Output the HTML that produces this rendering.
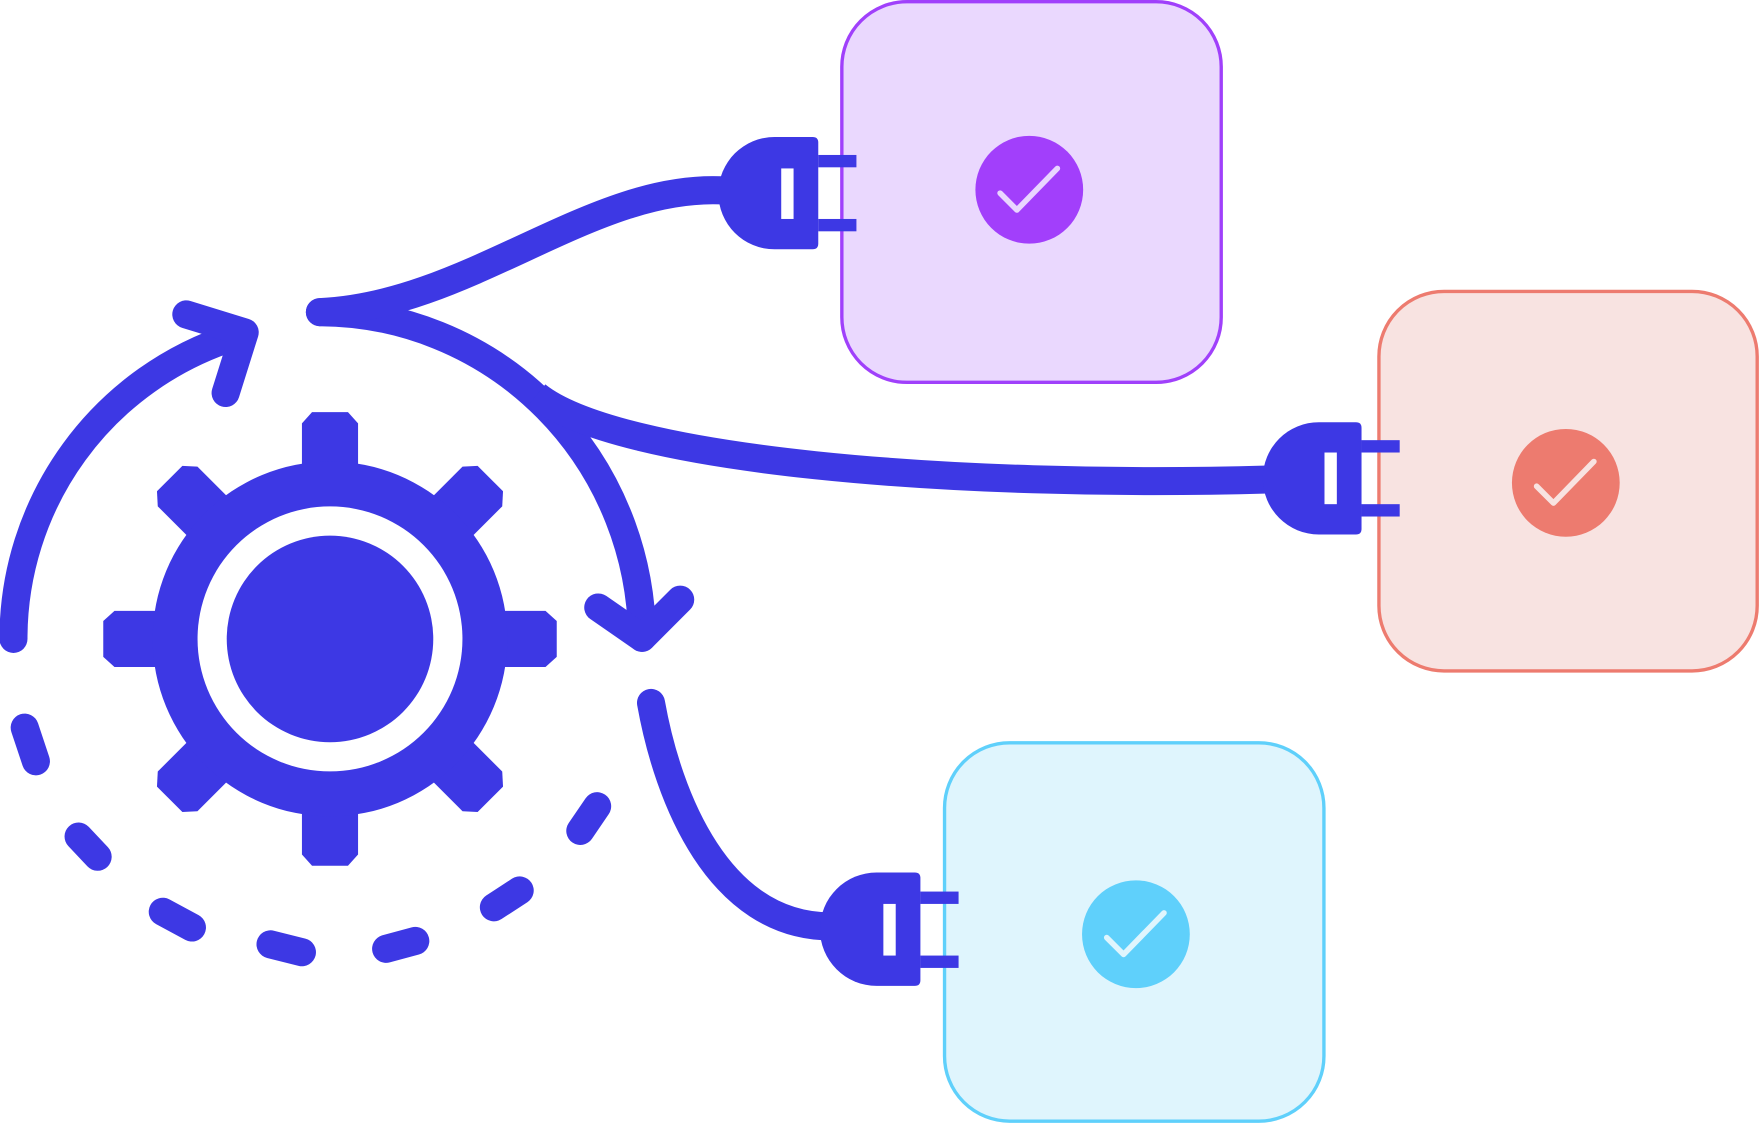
<!DOCTYPE html>
<html><head><style>html,body{margin:0;padding:0;background:#fff}svg{display:block}</style></head>
<body>
<svg width="1760" height="1124" viewBox="0 0 1568 1001" preserveAspectRatio="none" xmlns="http://www.w3.org/2000/svg">
<defs>
<g id="tooth"><path d="M-25,-192 L-16,-202 L16,-202 L25,-192 L25,0 L-25,0 Z" fill="#3d38e4"/></g>
</defs>
<rect x="750" y="1.5" width="338" height="339" rx="58" fill="#ead8fe" stroke="#a040fb" stroke-width="3"/>
<rect x="1228.5" y="259.5" width="337" height="338" rx="58" fill="#f8e3e1" stroke="#ed7b6f" stroke-width="3"/>
<rect x="841.5" y="661.5" width="338" height="337" rx="58" fill="#dff5fd" stroke="#5fd0fb" stroke-width="3"/>
<circle cx="917" cy="169" r="48" fill="#a23ffb"/>
<polyline points="891,172 906,187 942,150" fill="none" stroke="#e9d5ff" stroke-width="5" stroke-linecap="round" stroke-linejoin="round"/>
<circle cx="1395" cy="430" r="48" fill="#ed7b6f"/>
<polyline points="1369,433 1384,448 1420,411" fill="none" stroke="#f8e3e1" stroke-width="5" stroke-linecap="round" stroke-linejoin="round"/>
<circle cx="1012" cy="832" r="48" fill="#5fd0fb"/>
<polyline points="986,835 1001,850 1037,813" fill="none" stroke="#dff5fd" stroke-width="5" stroke-linecap="round" stroke-linejoin="round"/>

<g fill="none" stroke="#3d38e4" stroke-width="25" stroke-linecap="round" stroke-linejoin="round">
<path d="M285,278 A288,292 0 0 1 572,568"/>
<polyline points="533,541 572,568 606,534"/>
<path d="M12,569 A282,282 0 0 1 208,300"/>
<polyline points="166,280 218,296 201,350"/>
<path d="M22,648 L32,678 M70,745 L87,763 M145,812 L171,826 M241,841 L269,848 M344,845 L370,838 M440,808 L463,793 M517,740 L532,718"/>
<path d="M285,278 C420,272 530,160 650,170"/>
<path d="M478,352 C550,410 850,435 1130,427" stroke-linecap="butt"/>
<path d="M580,626 C595,710 640,825 740,825"/>
</g>

<g fill="#3d38e4">
<path d="M690,122 L724,122 Q729,122 729,127 L729,217 Q729,222 724,222 L690,222 A50,50 0 0 1 690,122 Z"/>
<rect x="729" y="138" width="34" height="11"/><rect x="729" y="195" width="34" height="11"/>
<path d="M1175,376 L1208,376 Q1213,376 1213,381 L1213,471 Q1213,476 1208,476 L1175,476 A50,50 0 0 1 1175,376 Z"/>
<rect x="1213" y="392" width="34" height="11"/><rect x="1213" y="449" width="34" height="11"/>
<path d="M781,777 L815,777 Q820,777 820,782 L820,873 Q820,878 815,878 L781,878 A50.5,50.5 0 0 1 781,777 Z"/>
<rect x="820" y="794" width="34" height="11"/><rect x="820" y="851" width="34" height="11"/>
</g>
<g fill="#fff">
<rect x="696" y="150" width="11" height="45"/>
<rect x="1180" y="403" width="11" height="46"/>
<rect x="787" y="805" width="11" height="46"/>
</g>

<g transform="translate(294,569)">
<use href="#tooth"/>
<use href="#tooth" transform="rotate(45)"/>
<use href="#tooth" transform="rotate(90)"/>
<use href="#tooth" transform="rotate(135)"/>
<use href="#tooth" transform="rotate(180)"/>
<use href="#tooth" transform="rotate(225)"/>
<use href="#tooth" transform="rotate(270)"/>
<use href="#tooth" transform="rotate(315)"/>
<circle r="158" fill="#3d38e4"/>
<circle r="118" fill="#fff"/>
<circle r="92" fill="#3d38e4"/>
</g>
</svg>
</body></html>
